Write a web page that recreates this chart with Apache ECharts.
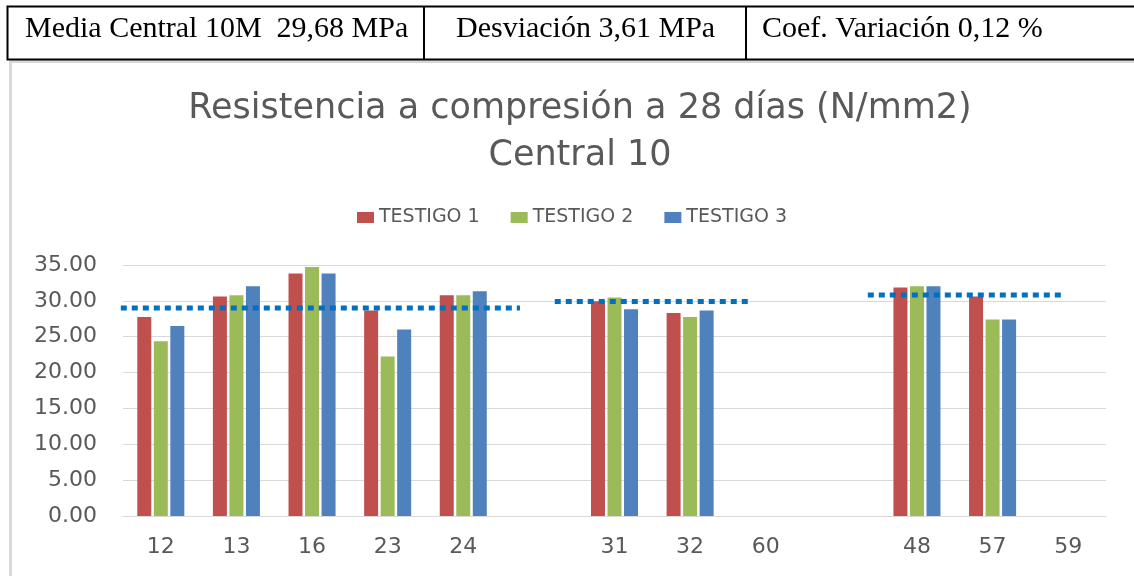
<!DOCTYPE html>
<html>
<head>
<meta charset="utf-8">
<script src="https://cdn.jsdelivr.net/npm/echarts@6/dist/echarts.min.js"></script>
<style>
  html, body { margin: 0; padding: 0; background: #fff; }
  #main { width: 1134px; height: 576px; }
</style>
</head>
<body>
<div id="main"></div>
<script>
  // data
  var categories = ['12', '13', '16', '23', '24', '', '31', '32', '60', '', '48', '57', '59'];
  var testigo1 = [27.76, 30.60, 33.80, 28.65, 30.78, null, 29.94, 28.32, null, null, 31.85, 30.60, null];
  var testigo2 = [24.37, 30.78, 34.72, 22.24, 30.78, null, 30.46, 27.76, null, null, 32.03, 27.40, null];
  var testigo3 = [26.50, 32.03, 33.80, 26.00, 31.34, null, 28.83, 28.65, null, null, 32.03, 27.40, null];
  // dotted mean lines: value and start/end in category-index units
  var meanValues = [29.0, 29.9, 30.82];
  var meanSpans = [[-0.82, 4.75], [5.21, 7.79], [9.35, 11.93]];
  var headerTexts = ['Media Central 10M  29,68 MPa', 'Desviación 3,61 MPa', 'Coef. Variación 0,12 %'];

  var myChart = echarts.init(document.getElementById('main'));

  var grey = '#595959';
  var axisFont = 'DejaVu Sans';

  var series = [
    { name: 'TESTIGO 1', type: 'bar', data: testigo1, itemStyle: { color: '#C0504D' } },
    { name: 'TESTIGO 2', type: 'bar', data: testigo2, itemStyle: { color: '#9BBB59' } },
    { name: 'TESTIGO 3', type: 'bar', data: testigo3, itemStyle: { color: '#4F81BD' } }
  ];
  series.forEach(function (s) {
    s.barWidth = 14;
    s.barGap = '18%';
    s.silent = true;
  });

  // mean lines on a hidden value axis that matches the category positions
  meanValues.forEach(function (v, i) {
    series.push({
      type: 'line',
      xAxisIndex: 1,
      data: [[meanSpans[i][0], v], [meanSpans[i][1], v]],
      symbol: 'none',
      clip: false,
      silent: true,
      lineStyle: { color: '#0070C0', width: 5, type: [6, 5] }
    });
  });

  var headerX = [25, 456, 762];
  var graphics = [
    // chart frame (light grey)
    { type: 'polyline', shape: { points: [[10.5, 576], [10.5, 61.5], [1134, 61.5]] },
      style: { stroke: '#d9d9d9', lineWidth: 3, fill: null } },
    // header table
    { type: 'rect', shape: { x: 7.5, y: 6.5, width: 1140, height: 53 },
      style: { stroke: '#000', lineWidth: 2, fill: '#fff' } },
    { type: 'line', shape: { x1: 424, y1: 6.5, x2: 424, y2: 59.5 }, style: { stroke: '#000', lineWidth: 2 } },
    { type: 'line', shape: { x1: 746, y1: 6.5, x2: 746, y2: 59.5 }, style: { stroke: '#000', lineWidth: 2 } }
  ];
  headerTexts.forEach(function (t, i) {
    graphics.push({
      type: 'text', x: headerX[i], y: 29,
      style: { text: t, font: '30px "Liberation Serif"', fill: '#000', textAlign: 'left', textVerticalAlign: 'middle' }
    });
  });

  var option = {
    animation: false,
    title: {
      text: 'Resistencia a compresión a 28 días (N/mm2)\nCentral 10',
      left: 575,
      textAlign: 'center',
      top: 80,
      textStyle: { fontFamily: axisFont, fontSize: 35, fontWeight: 'normal', color: grey, lineHeight: 47 }
    },
    legend: {
      data: ['TESTIGO 1', 'TESTIGO 2', 'TESTIGO 3'],
      left: 352,
      top: 203,
      itemWidth: 17,
      itemHeight: 11,
      itemGap: 31,
      icon: 'rect',
      textStyle: { fontFamily: axisFont, fontSize: 19, color: grey, padding: [0, 0, 0, 0] }
    },
    grid: { left: 123, right: 28, top: 265, bottom: 60, containLabel: false },
    xAxis: [{
      type: 'category',
      data: categories,
      axisTick: { show: false },
      axisLine: { lineStyle: { color: '#d9d9d9', width: 1 } },
      axisLabel: { fontFamily: axisFont, fontSize: 22, color: grey, margin: 20 }
    }, {
      type: 'value',
      min: -0.5,
      max: 12.5,
      show: false
    }],
    yAxis: {
      type: 'value',
      min: 0,
      max: 35,
      interval: 5,
      axisLine: { show: false },
      axisTick: { show: false },
      splitLine: { lineStyle: { color: '#d9d9d9', width: 1 } },
      axisLabel: {
        fontFamily: axisFont, fontSize: 22, color: grey, margin: 26,
        formatter: function (v) { return v.toFixed(2); }
      }
    },
    graphic: graphics,
    series: series
  };

  myChart.setOption(option);
</script>
</body>
</html>
